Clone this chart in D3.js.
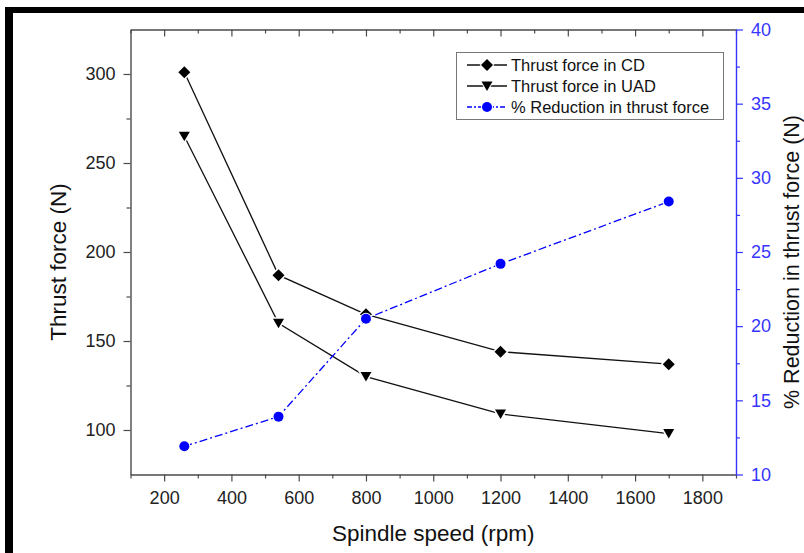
<!DOCTYPE html>
<html><head><meta charset="utf-8">
<script src="https://cdn.jsdelivr.net/npm/d3@7"></script>
<style>body{margin:0;background:#fff} svg{display:block}</style>
</head><body>
<svg id="c" width="804" height="553"></svg>
<script>
// ---- data ----
const speeds    = [260, 540, 800, 1200, 1700];
const forceCD   = [301, 187, 165, 144, 137];
const forceUAD  = [265, 160, 130, 109, 98];
const reduction = [11.9, 13.9, 20.5, 24.2, 28.4];
const seriesNames = ["Thrust force in CD", "Thrust force in UAD", "% Reduction in thrust force"];
const xMajorTicks = [200, 400, 600, 800, 1000, 1200, 1400, 1600, 1800];
const xMinorTicks = [100, 300, 500, 700, 900, 1100, 1300, 1500, 1700, 1900];
const yLeftMajor  = [100, 150, 200, 250, 300];
const yLeftMinor  = [125, 175, 225, 275];
const yRightMajor = [10, 15, 20, 25, 30, 35, 40];
const yRightMinor = [12.5, 17.5, 22.5, 27.5, 32.5, 37.5];
const xTitle = "Spindle speed (rpm)";
const yLeftTitle = "Thrust force (N)";
const yRightTitle = "% Reduction in thrust force (N)";

// ---- layout ----
const L = 130.5, R = 736, T = 29.5, B = 474.5;
const FONT = "'Liberation Sans', Arial, sans-serif";
const AX = "#4a4a4a", BLUE = "#3535ff", DOT = "#0000ff";

const svg = d3.select("#c");
svg.append("rect").attr("width", 804).attr("height", 553).attr("fill", "#fff");
// black frame
svg.append("rect").attr("x", 5).attr("y", 7).attr("width", 799).attr("height", 6).attr("fill", "#000");
svg.append("rect").attr("x", 5).attr("y", 7).attr("width", 8).attr("height", 546).attr("fill", "#000");

const x  = d3.scaleLinear().domain([100, 1900]).range([L, R]);
const yL = d3.scaleLinear().domain([75, 325]).range([B, T]);
const yR = d3.scaleLinear().domain([10, 40]).range([B, T]);

function styleAxis(g, color, fs) {
  g.select(".domain").attr("stroke", color).attr("stroke-width", 1.4);
  g.selectAll(".tick line").attr("stroke", color).attr("stroke-width", 1.2);
  g.selectAll(".tick text").attr("fill", color).attr("font-family", FONT).attr("font-size", fs);
}

// bottom axis
const gB = svg.append("g").attr("transform", `translate(0,${B})`)
  .call(d3.axisBottom(x).tickValues(xMajorTicks).tickSize(7).tickSizeOuter(0).tickPadding(10).tickFormat(d3.format("d")));
styleAxis(gB, AX, 18); gB.selectAll(".tick text").attr("fill", "#222");
const gBm = svg.append("g").attr("transform", `translate(0,${B})`)
  .call(d3.axisBottom(x).tickValues(xMinorTicks).tickSize(4).tickSizeOuter(0).tickFormat(""));
styleAxis(gBm, AX, 0); gBm.select(".domain").remove();

// top axis (ticks inward, no labels)
const gT = svg.append("g").attr("transform", `translate(0,${T})`)
  .call(d3.axisBottom(x).tickValues(xMajorTicks).tickSize(7).tickSizeOuter(0).tickFormat(""));
styleAxis(gT, AX, 0);
const gTm = svg.append("g").attr("transform", `translate(0,${T})`)
  .call(d3.axisBottom(x).tickValues(xMinorTicks).tickSize(4).tickSizeOuter(0).tickFormat(""));
styleAxis(gTm, AX, 0); gTm.select(".domain").remove();

// left axis
const gL = svg.append("g").attr("transform", `translate(${L},0)`)
  .call(d3.axisLeft(yL).tickValues(yLeftMajor).tickSize(7).tickSizeOuter(0).tickPadding(8));
styleAxis(gL, AX, 18); gL.selectAll(".tick text").attr("fill", "#222");
const gLm = svg.append("g").attr("transform", `translate(${L},0)`)
  .call(d3.axisLeft(yL).tickValues(yLeftMinor).tickSize(4).tickSizeOuter(0).tickFormat(""));
styleAxis(gLm, AX, 0); gLm.select(".domain").remove();

// right axis (blue)
const gR = svg.append("g").attr("transform", `translate(${R},0)`)
  .call(d3.axisRight(yR).tickValues(yRightMajor).tickSize(7).tickSizeOuter(0).tickPadding(8));
styleAxis(gR, BLUE, 18);
const gRm = svg.append("g").attr("transform", `translate(${R},0)`)
  .call(d3.axisRight(yR).tickValues(yRightMinor).tickSize(4).tickSizeOuter(0).tickFormat(""));
styleAxis(gRm, BLUE, 0); gRm.select(".domain").remove();

// axis titles
svg.append("text").attr("x", (L + R) / 2).attr("y", 541).attr("text-anchor", "middle")
  .attr("font-family", FONT).attr("font-size", 22.5).attr("fill", "#111").text(xTitle);
svg.append("text").attr("transform", `translate(58,${(T + B) / 2 + 10}) rotate(-90)`)
  .attr("text-anchor", "middle").attr("dy", "0.35em")
  .attr("font-family", FONT).attr("font-size", 22.5).attr("fill", "#111").text(yLeftTitle);
svg.append("text").attr("transform", `translate(791,${(T + B) / 2 + 10}) rotate(-90)`)
  .attr("text-anchor", "middle").attr("dy", "0.35em")
  .attr("font-family", FONT).attr("font-size", 21.5).attr("fill", "#111").text(yRightTitle);

// marker shapes
const diamond = "M0,-6L6,0L0,6L-6,0Z";
const triangle = "M-5.5,-4.5L5.5,-4.5L0,5Z";

// lines
const lineL = d3.line().x((d, i) => x(speeds[i])).y(d => yL(d));
const lineR = d3.line().x((d, i) => x(speeds[i])).y(d => yR(d));
svg.append("path").attr("d", lineL(forceCD)).attr("fill", "none").attr("stroke", "#111").attr("stroke-width", 1.3);
svg.append("path").attr("d", lineL(forceUAD)).attr("fill", "none").attr("stroke", "#111").attr("stroke-width", 1.3);
svg.append("path").attr("d", lineR(reduction)).attr("fill", "none").attr("stroke", DOT).attr("stroke-width", 1.3)
  .attr("stroke-dasharray", "8,3,2,3");

// markers
svg.append("g").selectAll("path").data(forceCD).join("path")
  .attr("d", diamond).attr("transform", (d, i) => `translate(${x(speeds[i])},${yL(d)})`)
  .attr("fill", "#000").attr("stroke", "#fff").attr("stroke-width", 3).attr("paint-order", "stroke");
svg.append("g").selectAll("path").data(forceUAD).join("path")
  .attr("d", triangle).attr("transform", (d, i) => `translate(${x(speeds[i])},${yL(d)})`)
  .attr("fill", "#000").attr("stroke", "#fff").attr("stroke-width", 3).attr("paint-order", "stroke");
svg.append("g").selectAll("circle").data(reduction).join("circle")
  .attr("cx", (d, i) => x(speeds[i])).attr("cy", d => yR(d)).attr("r", 5)
  .attr("fill", DOT).attr("stroke", "#fff").attr("stroke-width", 2).attr("paint-order", "stroke");

// legend
const lg = svg.append("g");
lg.append("rect").attr("x", 456.5).attr("y", 52.5).attr("width", 267).attr("height", 67)
  .attr("fill", "#fff").attr("stroke", "#777").attr("stroke-width", 1);
const rowsY = [65, 86, 107];
const legendStyle = [
  {stroke: "#111", dash: null, shape: "diamond"},
  {stroke: "#111", dash: null, shape: "triangle"},
  {stroke: DOT, dash: "5,2,2,2", shape: "circle"}
];
seriesNames.forEach((name, k) => {
  const yy = rowsY[k], st = legendStyle[k];
  lg.append("line").attr("x1", 467).attr("x2", 507).attr("y1", yy).attr("y2", yy)
    .attr("stroke", st.stroke).attr("stroke-width", 1.3).attr("stroke-dasharray", st.dash);
  if (st.shape === "circle") {
    lg.append("circle").attr("cx", 487).attr("cy", yy).attr("r", 5).attr("fill", DOT)
      .attr("stroke", "#fff").attr("stroke-width", 2).attr("paint-order", "stroke");
  } else {
    lg.append("path").attr("d", st.shape === "diamond" ? diamond : triangle)
      .attr("transform", `translate(487,${yy})`).attr("fill", "#000")
      .attr("stroke", "#fff").attr("stroke-width", 2).attr("paint-order", "stroke");
  }
  lg.append("text").attr("x", 511).attr("y", yy).attr("dy", "0.35em")
    .attr("font-family", FONT).attr("font-size", 16.5).attr("fill", "#111").text(name);
});
</script>
</body></html>
